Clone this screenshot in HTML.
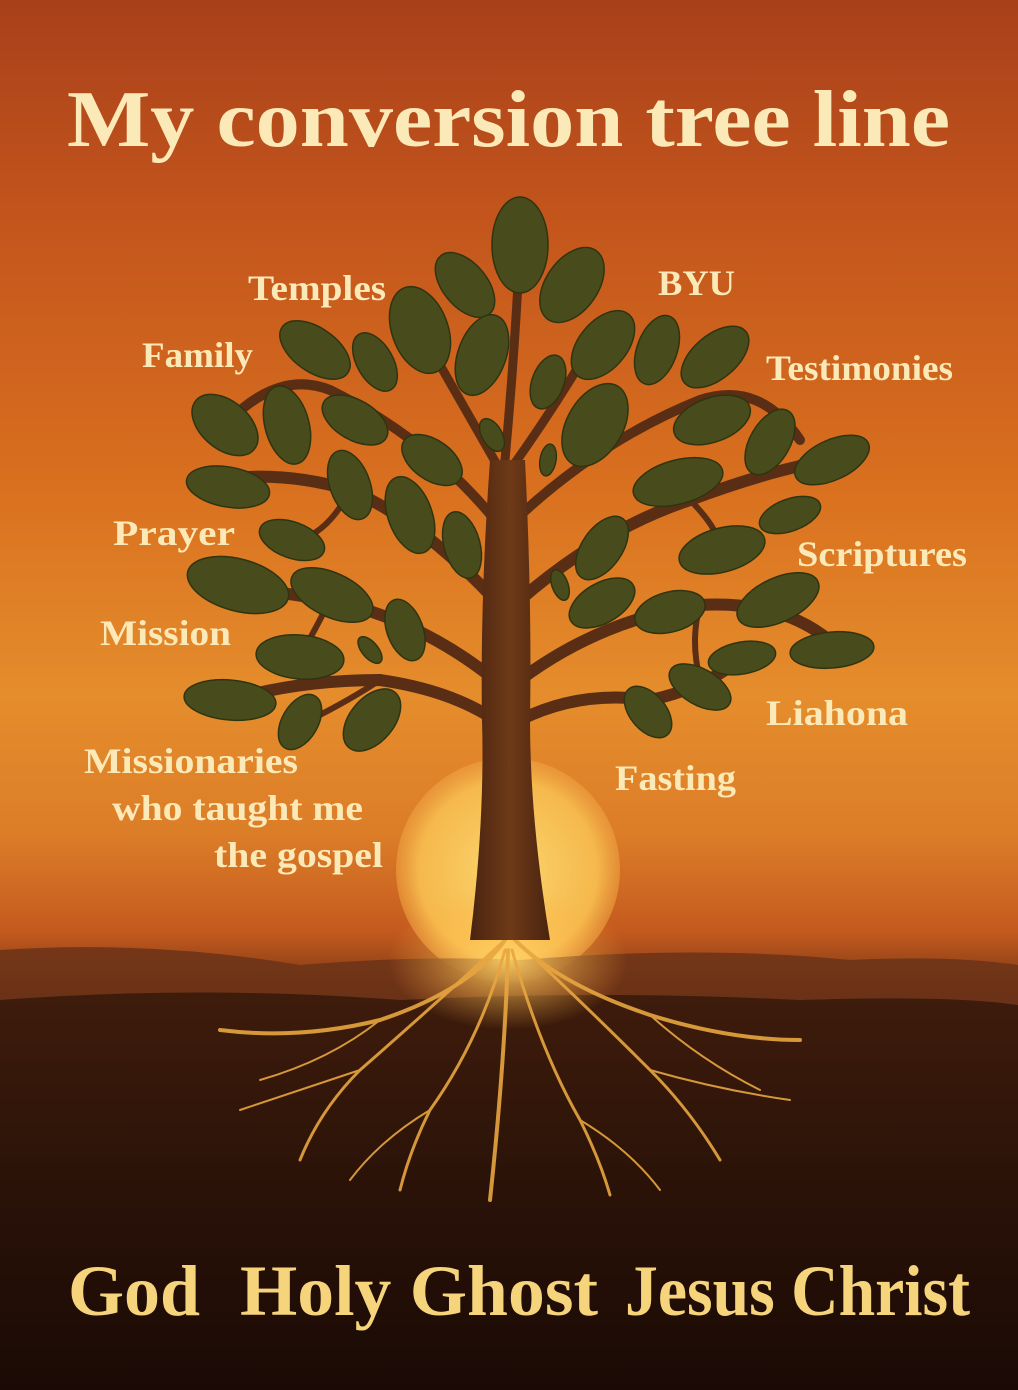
<!DOCTYPE html>
<html><head><meta charset="utf-8"><style>
html,body{margin:0;padding:0;width:1018px;height:1390px;overflow:hidden;background:#2a1208}
svg{display:block}
</style></head><body>
<svg width="1018" height="1390" viewBox="0 0 1018 1390" xmlns="http://www.w3.org/2000/svg">
<defs>
<linearGradient id="sky" x1="0" y1="0" x2="0" y2="1">
<stop offset="0" stop-color="#a8401a"/>
<stop offset="0.15" stop-color="#c2541c"/>
<stop offset="0.35" stop-color="#d9701f"/>
<stop offset="0.5" stop-color="#e58d2c"/>
<stop offset="0.6" stop-color="#dc7d28"/>
<stop offset="0.67" stop-color="#c45a1e"/>
<stop offset="0.72" stop-color="#6a3014"/>
<stop offset="0.8" stop-color="#3a1a0b"/>
<stop offset="1" stop-color="#1a0b05"/>
</linearGradient>
<linearGradient id="ground" x1="0" y1="0" x2="0" y2="1">
<stop offset="0" stop-color="#3e1c0c"/>
<stop offset="0.5" stop-color="#2a1208"/>
<stop offset="1" stop-color="#1a0a05"/>
</linearGradient>
<radialGradient id="sun" cx="0.5" cy="0.5" r="0.5">
<stop offset="0" stop-color="#fbd66e"/>
<stop offset="0.8" stop-color="#f5b84c"/>
<stop offset="1" stop-color="#eea040" stop-opacity="0.6"/>
</radialGradient>
<radialGradient id="glow" cx="0.5" cy="0.5" r="0.5">
<stop offset="0" stop-color="#ffd66a" stop-opacity="0.9"/>
<stop offset="1" stop-color="#ffb040" stop-opacity="0"/>
</radialGradient>
<linearGradient id="trunk" x1="0" y1="0" x2="1" y2="0">
<stop offset="0" stop-color="#4a2410"/>
<stop offset="0.5" stop-color="#6e3a18"/>
<stop offset="1" stop-color="#4a2410"/>
</linearGradient>
</defs>
<rect width="1018" height="1390" fill="url(#sky)"/>
<circle cx="508" cy="870" r="112" fill="url(#sun)"/>
<path d="M0 950 Q150 940 300 965 Q420 955 520 960 Q700 945 850 960 Q950 955 1018 965 L1018 1390 L0 1390Z" fill="#6b3318" opacity="0.85"/>
<path d="M0 1000 Q200 985 400 1000 Q600 990 800 1000 Q950 995 1018 1005 L1018 1390 L0 1390Z" fill="url(#ground)"/>
<ellipse cx="508" cy="960" rx="120" ry="70" fill="url(#glow)"/>
<g stroke="#e8a640" fill="none" stroke-linecap="round" opacity="0.9">
<path d="M505 940 Q470 990 380 1020 Q300 1040 220 1030" stroke-width="4"/>
<path d="M505 940 Q440 1000 360 1070 Q320 1110 300 1160" stroke-width="3"/>
<path d="M505 950 Q480 1040 430 1110 Q410 1150 400 1190" stroke-width="3"/>
<path d="M508 950 Q505 1060 490 1200" stroke-width="4"/>
<path d="M512 950 Q540 1050 580 1120 Q600 1160 610 1195" stroke-width="3"/>
<path d="M515 940 Q580 1000 650 1070 Q690 1110 720 1160" stroke-width="3"/>
<path d="M515 940 Q560 985 650 1015 Q730 1040 800 1040" stroke-width="4"/>
<path d="M380 1020 Q330 1060 260 1080" stroke-width="2"/>
<path d="M650 1015 Q700 1060 760 1090" stroke-width="2"/>
<path d="M430 1110 Q380 1140 350 1180" stroke-width="2"/>
<path d="M580 1120 Q630 1150 660 1190" stroke-width="2"/>
<path d="M360 1070 Q300 1090 240 1110" stroke-width="2"/>
<path d="M650 1070 Q720 1090 790 1100" stroke-width="2"/>
</g>
<g stroke="#5a2e14" fill="none" stroke-linecap="round">
<path d="M495 720 Q450 690 380 680 Q300 680 230 700" stroke-width="12"/>
<path d="M495 680 Q420 620 330 600 Q260 590 230 585" stroke-width="12"/>
<path d="M495 600 Q420 520 350 490 Q280 470 220 480" stroke-width="12"/>
<path d="M495 520 Q430 440 330 390 Q280 370 230 420" stroke-width="10"/>
<path d="M500 470 Q460 400 420 330" stroke-width="9"/>
<path d="M505 460 Q515 350 520 245" stroke-width="9"/>
<path d="M510 470 Q560 400 600 330" stroke-width="9"/>
<path d="M515 520 Q600 440 700 400 Q760 380 800 440" stroke-width="10"/>
<path d="M520 600 Q600 530 690 500 Q770 470 830 460" stroke-width="12"/>
<path d="M520 680 Q600 620 700 605 Q790 600 840 650" stroke-width="12"/>
<path d="M520 720 Q580 690 650 700 Q700 690 740 660" stroke-width="12"/>
<path d="M380 680 Q350 700 310 720" stroke-width="6"/>
<path d="M330 600 Q310 640 300 655" stroke-width="6"/>
<path d="M700 605 Q690 640 700 680" stroke-width="6"/>
<path d="M350 490 Q330 530 300 540" stroke-width="6"/>
<path d="M690 500 Q720 530 720 550" stroke-width="6"/>
</g>
<path d="M470 940 Q485 820 482 720 Q480 600 490 460 L525 460 Q532 600 530 720 Q530 820 550 940 Z" fill="url(#trunk)"/>
<g fill="#484c1c" stroke="#2f3410" stroke-width="1.5">
<ellipse cx="520" cy="245" rx="28" ry="48"/>
<ellipse cx="465" cy="285" rx="22" ry="38" transform="rotate(-40 465 285)"/>
<ellipse cx="572" cy="285" rx="26" ry="42" transform="rotate(35 572 285)"/>
<ellipse cx="420" cy="330" rx="28" ry="45" transform="rotate(-20 420 330)"/>
<ellipse cx="315" cy="350" rx="22" ry="40" transform="rotate(-55 315 350)"/>
<ellipse cx="375" cy="362" rx="18" ry="32" transform="rotate(-30 375 362)"/>
<ellipse cx="482" cy="355" rx="24" ry="42" transform="rotate(20 482 355)"/>
<ellipse cx="603" cy="345" rx="24" ry="40" transform="rotate(40 603 345)"/>
<ellipse cx="657" cy="350" rx="20" ry="36" transform="rotate(20 657 350)"/>
<ellipse cx="715" cy="357" rx="22" ry="40" transform="rotate(50 715 357)"/>
<ellipse cx="225" cy="425" rx="24" ry="38" transform="rotate(-50 225 425)"/>
<ellipse cx="287" cy="425" rx="22" ry="40" transform="rotate(-15 287 425)"/>
<ellipse cx="355" cy="420" rx="20" ry="36" transform="rotate(-60 355 420)"/>
<ellipse cx="548" cy="382" rx="16" ry="28" transform="rotate(20 548 382)"/>
<ellipse cx="595" cy="425" rx="28" ry="45" transform="rotate(30 595 425)"/>
<ellipse cx="712" cy="420" rx="22" ry="40" transform="rotate(70 712 420)"/>
<ellipse cx="770" cy="442" rx="20" ry="36" transform="rotate(30 770 442)"/>
<ellipse cx="832" cy="460" rx="20" ry="40" transform="rotate(65 832 460)"/>
<ellipse cx="228" cy="487" rx="20" ry="42" transform="rotate(-80 228 487)"/>
<ellipse cx="292" cy="540" rx="18" ry="34" transform="rotate(-70 292 540)"/>
<ellipse cx="350" cy="485" rx="20" ry="36" transform="rotate(-20 350 485)"/>
<ellipse cx="410" cy="515" rx="22" ry="40" transform="rotate(-20 410 515)"/>
<ellipse cx="462" cy="545" rx="18" ry="34" transform="rotate(-15 462 545)"/>
<ellipse cx="432" cy="460" rx="20" ry="34" transform="rotate(-55 432 460)"/>
<ellipse cx="492" cy="435" rx="10" ry="18" transform="rotate(-30 492 435)"/>
<ellipse cx="602" cy="548" rx="20" ry="36" transform="rotate(35 602 548)"/>
<ellipse cx="678" cy="482" rx="22" ry="46" transform="rotate(75 678 482)"/>
<ellipse cx="722" cy="550" rx="22" ry="44" transform="rotate(75 722 550)"/>
<ellipse cx="790" cy="515" rx="16" ry="32" transform="rotate(70 790 515)"/>
<ellipse cx="238" cy="585" rx="26" ry="52" transform="rotate(-75 238 585)"/>
<ellipse cx="332" cy="595" rx="22" ry="44" transform="rotate(-65 332 595)"/>
<ellipse cx="405" cy="630" rx="18" ry="32" transform="rotate(-20 405 630)"/>
<ellipse cx="602" cy="603" rx="20" ry="36" transform="rotate(60 602 603)"/>
<ellipse cx="670" cy="612" rx="20" ry="36" transform="rotate(75 670 612)"/>
<ellipse cx="778" cy="600" rx="22" ry="44" transform="rotate(65 778 600)"/>
<ellipse cx="832" cy="650" rx="18" ry="42" transform="rotate(85 832 650)"/>
<ellipse cx="300" cy="657" rx="22" ry="44" transform="rotate(-85 300 657)"/>
<ellipse cx="742" cy="658" rx="16" ry="34" transform="rotate(80 742 658)"/>
<ellipse cx="230" cy="700" rx="20" ry="46" transform="rotate(-85 230 700)"/>
<ellipse cx="300" cy="722" rx="18" ry="30" transform="rotate(30 300 722)"/>
<ellipse cx="372" cy="720" rx="22" ry="36" transform="rotate(40 372 720)"/>
<ellipse cx="648" cy="712" rx="18" ry="30" transform="rotate(-40 648 712)"/>
<ellipse cx="700" cy="687" rx="18" ry="34" transform="rotate(-60 700 687)"/>
<ellipse cx="560" cy="585" rx="8" ry="16" transform="rotate(-20 560 585)"/>
<ellipse cx="548" cy="460" rx="8" ry="16" transform="rotate(10 548 460)"/>
<ellipse cx="370" cy="650" rx="8" ry="16" transform="rotate(-40 370 650)"/>
</g>
<g font-family="'Liberation Serif', serif" fill="#fbeab8" lengthAdjust="spacingAndGlyphs">
<text x="67" y="146" font-size="80" font-weight="bold" textLength="883" lengthAdjust="spacingAndGlyphs">My conversion tree line</text>
<g font-size="36" font-weight="bold">
<text x="248" y="300" textLength="138" lengthAdjust="spacingAndGlyphs">Temples</text>
<text x="658" y="295" textLength="77" lengthAdjust="spacingAndGlyphs">BYU</text>
<text x="142" y="367" textLength="111" lengthAdjust="spacingAndGlyphs">Family</text>
<text x="766" y="380" textLength="187" lengthAdjust="spacingAndGlyphs">Testimonies</text>
<text x="113" y="545" textLength="122" lengthAdjust="spacingAndGlyphs">Prayer</text>
<text x="797" y="566" textLength="170" lengthAdjust="spacingAndGlyphs">Scriptures</text>
<text x="100" y="645" textLength="131" lengthAdjust="spacingAndGlyphs">Mission</text>
<text x="766" y="725" textLength="142" lengthAdjust="spacingAndGlyphs">Liahona</text>
<text x="615" y="790" textLength="121" lengthAdjust="spacingAndGlyphs">Fasting</text>
<text x="84" y="773" textLength="214" lengthAdjust="spacingAndGlyphs">Missionaries</text>
<text x="112" y="820" textLength="251" lengthAdjust="spacingAndGlyphs">who taught me</text>
<text x="214" y="867" textLength="169" lengthAdjust="spacingAndGlyphs">the gospel</text>
</g>
<text x="68" y="1315" font-size="72" font-weight="bold" fill="#f5d47c" textLength="132" lengthAdjust="spacingAndGlyphs">God</text>
<text x="240" y="1315" font-size="72" font-weight="bold" fill="#f5d47c" textLength="358" lengthAdjust="spacingAndGlyphs">Holy Ghost</text>
<text x="625" y="1315" font-size="72" font-weight="bold" fill="#f5d47c" textLength="345" lengthAdjust="spacingAndGlyphs">Jesus Christ</text>
</g>
</svg>
</body></html>
